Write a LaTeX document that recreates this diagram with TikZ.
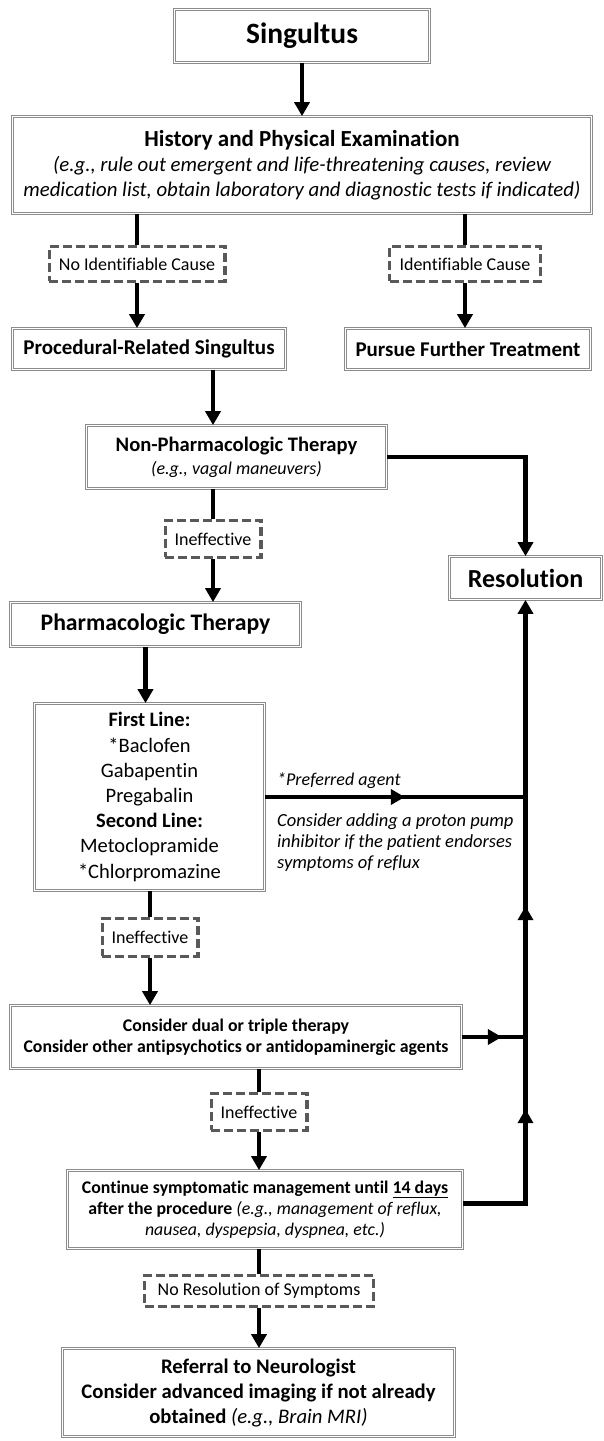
\documentclass[tikz,border=0pt]{standalone}
\usepackage{fontspec}
\setmainfont{Carlito}[Ligatures=NoCommon]
\usetikzlibrary{arrows.meta,decorations.markings}

\tikzset{
	box/.style={draw=black!45, double, double distance=1.2pt, line width=1.1pt, fill=white, inner sep=0pt, align=center},
	cause/.style={draw=black!65, line width=3.2pt, dash pattern=on 9pt off 4pt, fill=white, inner sep=0pt, align=center, font=\fontsize{18}{20}\selectfont},
	link/.style={line width=4.5pt},
	arr/.style={link, -{Triangle[width=15pt,length=14pt]}},
	midarr/.style={postaction={decorate, decoration={markings, mark=at position #1 with {\arrow{Triangle[width=15pt,length=14pt]}}}}}
}

\begin{document}
\begin{tikzpicture}[x=1pt,y=-1pt]
	\useasboundingbox (0,0) rectangle (604,1441);

	% main boxes
	\node[box, minimum width=254.6pt, minimum height=52.6pt, font=\bfseries\fontsize{29.5}{32}\selectfont] (singultus) at (302,36) {Singultus};
	\node[box, minimum width=578.6pt, minimum height=96.6pt, font=\itshape\fontsize{20.8}{25}\selectfont] (hp) at (302,165)
		{{\upshape\bfseries\fontsize{23}{25}\selectfont History and Physical Examination}\\(e.g., rule out emergent and life-threatening causes, review\\medication list, obtain laboratory and diagnostic tests if indicated)};
	\node[box, minimum width=272.6pt, minimum height=40.6pt, font=\bfseries\fontsize{21}{24}\selectfont] (procedural) at (149,349) {Procedural-Related Singultus};
	\node[box, minimum width=244.6pt, minimum height=40.6pt, font=\bfseries\fontsize{21}{24}\selectfont] (pursue) at (468,349) {Pursue Further Treatment};
	\node[box, minimum width=299.6pt, minimum height=62.6pt, font=\itshape\fontsize{18}{23}\selectfont] (nonpharm) at (236.5,457)
		{{\upshape\bfseries\fontsize{20.6}{23}\selectfont Non-Pharmacologic Therapy}\\(e.g., vagal maneuvers)};
	\node[box, minimum width=151.6pt, minimum height=42.6pt, font=\bfseries\fontsize{26}{28}\selectfont] (resolution) at (525.5,578) {Resolution};
	\node[box, minimum width=289.6pt, minimum height=43.6pt, font=\bfseries\fontsize{23.7}{26}\selectfont] (pharm) at (155.5,624.5) {Pharmacologic Therapy};
	\node[box, minimum width=229.6pt, minimum height=186.6pt, font=\fontsize{20.5}{25.2}\selectfont] (firstline) at (149.5,797)
		{\textbf{First Line:}\\{}*Baclofen\\Gabapentin\\Pregabalin\\\textbf{Second Line:}\\Metoclopramide\\{}*Chlorpromazine};
	\node[box, minimum width=450.6pt, minimum height=62.6pt, font=\bfseries\fontsize{17.8}{21}\selectfont] (dual) at (236,1037)
		{Consider dual or triple therapy\\Consider other antipsychotics or antidopaminergic agents};
	\node[box, minimum width=394.6pt, minimum height=77.6pt, font=\fontsize{17.8}{21}\selectfont] (continue) at (265,1209.5)
		{\textbf{Continue symptomatic management until \underline{14 days}}\\\textbf{after the procedure} \textit{(e.g., management of reflux,}\\\textit{nausea, dyspepsia, dyspnea, etc.)}};
	\node[box, minimum width=391.6pt, minimum height=87.6pt, font=\bfseries\fontsize{20.7}{25}\selectfont] (referral) at (258.5,1392.5)
		{Referral to Neurologist\\Consider advanced imaging if not already\\obtained {\mdseries\itshape (e.g., Brain MRI)}};

	% dashed outcome boxes
	\node[cause, minimum width=175.8pt, minimum height=34.8pt] (nocause) at (137,264) {No Identifiable Cause};
	\node[cause, minimum width=150.8pt, minimum height=34.8pt] (idcause) at (465,264) {Identifiable Cause};
	\node[cause, minimum width=95.8pt, minimum height=36.8pt] (ineff1) at (213,539) {Ineffective};
	\node[cause, minimum width=95.8pt, minimum height=37.8pt] (ineff2) at (150,937.5) {Ineffective};
	\node[cause, minimum width=95.8pt, minimum height=36.8pt] (ineff3) at (259,1112) {Ineffective};
	\node[cause, minimum width=228.8pt, minimum height=30.8pt] (nores) at (259,1291) {No Resolution of Symptoms};

	% side notes
	\node[anchor=west, inner sep=0pt, font=\itshape\fontsize{18}{21}\selectfont] (preferred) at (277,781) {*Preferred agent};
	\node[anchor=west, inner sep=0pt, align=left, font=\itshape\fontsize{18.5}{21}\selectfont] (ppi) at (277,843)
		{Consider adding a proton pump\\inhibitor if the patient endorses\\symptoms of reflux};

	% connectors
	\draw[arr] (singultus) -- (hp);
	\draw[link] (hp.south -| nocause) -- (nocause.north);
	\draw[arr] (nocause) -- (nocause |- procedural.north);
	\draw[link] (hp.south -| idcause) -- (idcause.north);
	\draw[arr] (idcause) -- (idcause |- pursue.north);
	\draw[arr] (procedural.south -| ineff1) -- (nonpharm.north -| ineff1);
	\draw[link] (nonpharm.south -| ineff1) -- (ineff1.north);
	\draw[arr] (ineff1) -- (ineff1 |- pharm.north);
	\draw[arr] (nonpharm.east) -| (resolution.north);
	\draw[arr] ([xshift=-4pt]pharm.south -| firstline) -- ([xshift=-4pt]firstline.north);
	\draw[link, midarr=140pt] (firstline.east) -- (firstline.east -| resolution);
	\draw[link] (firstline.south -| ineff2) -- (ineff2.north);
	\draw[arr] (ineff2) -- (ineff2 |- dual.north);
	\draw[link, midarr=40pt] (dual.east) -- (dual.east -| resolution);
	\draw[link] (dual.south -| ineff3) -- (ineff3.north);
	\draw[arr] (ineff3) -- (ineff3 |- continue.north);
	\draw[arr, midarr=157pt, midarr=360pt] ([yshift=6pt]continue.east) -| (resolution.south);
	\draw[link] (continue.south -| nores) -- (nores.north);
	\draw[arr] (nores) -- (nores |- referral.north);
\end{tikzpicture}
\end{document}
